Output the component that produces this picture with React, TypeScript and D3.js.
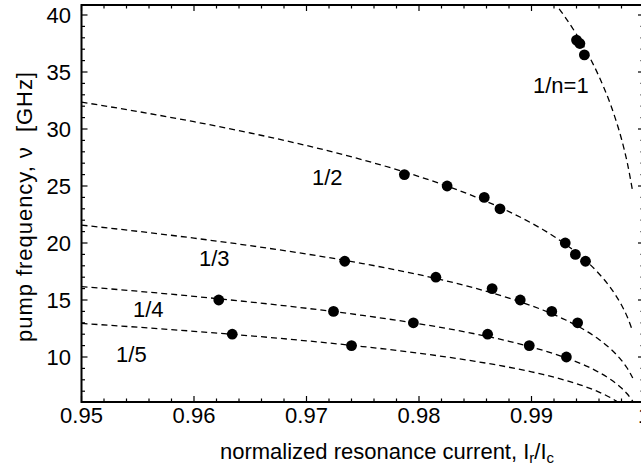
import React from "react";
import * as d3 from "d3";

// Junction plasma frequency (GHz) tabulated against normalized bias current I/Ic.
const currentGrid = [
  0.95, 0.955, 0.96, 0.965, 0.97, 0.975, 0.98, 0.985, 0.988, 0.99, 0.991, 0.992,
  0.993, 0.994, 0.995, 0.996, 0.997, 0.9975, 0.998, 0.9985, 0.999,
];
const plasmaFreq = [
  64.71, 63.07, 61.28, 59.3, 57.1, 54.59, 51.66, 48.1, 45.51, 43.49, 42.37, 41.14,
  39.8, 38.3, 36.6, 34.61, 32.22, 30.78, 29.12, 27.1, 24.49,
];
const orders = [1, 2, 3, 4, 5];

// Measured resonances, one pair of arrays per subharmonic order n.
const currentN1 = [0.994, 0.9943, 0.9947];
const freqN1 = [37.8, 37.5, 36.5];
const currentN2 = [0.9787, 0.9825, 0.9858, 0.9872, 0.993, 0.9939, 0.9948];
const freqN2 = [26, 25, 24, 23, 20, 19, 18.4];
const currentN3 = [0.9734, 0.9815, 0.9865, 0.989, 0.9918, 0.9941];
const freqN3 = [18.4, 17, 16, 15, 14, 13];
const currentN4 = [0.9622, 0.9724, 0.9795, 0.9861, 0.9898, 0.9931];
const freqN4 = [15, 14, 13, 12, 11, 10];
const currentN5 = [0.9634, 0.974];
const freqN5 = [12, 11];

const xTicks = [0.95, 0.96, 0.97, 0.98, 0.99, 1.0];
const yTicks = [10, 15, 20, 25, 30, 35, 40];
const orderLabels = ["1/n=1", "1/2", "1/3", "1/4", "1/5"];

const W = 641;
const H = 469;
const left = 81.5;
const right = 644;
const top = 5;
const bottom = 402;
const FONT = "'Liberation Sans', Arial, Helvetica, sans-serif";

const x = d3.scaleLinear().domain([0.95, 1.0]).range([left, right]);
const y = d3.scaleLinear().domain([10, 40]).range([357, 15]);

const measured = [
  { cur: currentN1, f: freqN1 },
  { cur: currentN2, f: freqN2 },
  { cur: currentN3, f: freqN3 },
  { cur: currentN4, f: freqN4 },
  { cur: currentN5, f: freqN5 },
];

// label anchor positions (data space: current, frequency at text baseline)
const labelPos: [number, number][] = [
  [0.99013, 33.16],
  [0.97049, 25.09],
  [0.96044, 17.98],
  [0.95458, 13.51],
  [0.95307, 9.56],
];

export default function App() {
  const line = d3
    .line<[number, number]>()
    .x((d) => x(d[0]))
    .y((d) => y(d[1]))
    .curve(d3.curveMonotoneX);

  const yMin = y.invert(bottom);
  const yMax = y.invert(top);
  const xMinor = d3.range(0.95, 1.0 + 1e-9, 0.002);
  const yMinor = d3.range(Math.ceil(yMin), Math.floor(yMax) + 1, 1);

  return (
    <svg
      width={W}
      height={H}
      style={{ position: "absolute", left: 0, top: 0, background: "#fff" }}
      fontFamily={FONT}
    >
      <defs>
        <clipPath id="plotArea">
          <rect x={left} y={top} width={right - left} height={bottom - top} />
        </clipPath>
      </defs>
      <rect x={0} y={0} width={W} height={H} fill="#fff" />

      {/* theory curves: plasma frequency divided by n */}
      <g clipPath="url(#plotArea)">
        {orders.map((n) => (
          <path
            key={n}
            d={line(currentGrid.map((c, i) => [c, plasmaFreq[i] / n] as [number, number])) || ""}
            fill="none"
            stroke="#000"
            strokeWidth={1.3}
            strokeDasharray="6,4"
          />
        ))}
      </g>

      {/* measured resonances */}
      <g>
        {measured.map((s, k) =>
          s.cur.map((c, i) => (
            <circle key={`${k}-${i}`} cx={x(c)} cy={y(s.f[i])} r={5.4} fill="#000" />
          ))
        )}
      </g>

      {/* order labels */}
      {orderLabels.map((t, k) => (
        <text
          key={t}
          x={x(labelPos[k][0])}
          y={y(labelPos[k][1])}
          fontSize={22}
          fill="#000"
        >
          {t}
        </text>
      ))}

      {/* ticks */}
      <g stroke="#000" strokeWidth={1.2}>
        {xMinor.map((v, i) => {
          const major = i % 5 === 0;
          const len = major ? 6 : 3.5;
          return (
            <g key={`xt${i}`}>
              <line x1={x(v)} x2={x(v)} y1={bottom} y2={bottom - len} />
              <line x1={x(v)} x2={x(v)} y1={top} y2={top + len} />
            </g>
          );
        })}
        {yMinor.map((v) => {
          const major = v % 5 === 0;
          const len = major ? 6 : 3.5;
          return (
            <g key={`yt${v}`}>
              <line x1={left} x2={left + len} y1={y(v)} y2={y(v)} />
              <line x1={right} x2={right - len} y1={y(v)} y2={y(v)} />
            </g>
          );
        })}
      </g>

      {/* frame */}
      <rect
        x={left}
        y={top}
        width={right - left}
        height={bottom - top}
        fill="none"
        stroke="#000"
        strokeWidth={2}
      />

      {/* tick labels */}
      {xTicks.map((v) => (
        <text key={`xl${v}`} x={x(v)} y={423} fontSize={22} textAnchor="middle" fill="#000">
          {d3.format("~g")(v)}
        </text>
      ))}
      {yTicks.map((v) => (
        <text
          key={`yl${v}`}
          x={71}
          y={y(v) + 7.8}
          fontSize={22}
          textAnchor="end"
          fill="#000"
        >
          {v}
        </text>
      ))}

      {/* axis titles */}
      <text x={387} y={459} fontSize={22} textAnchor="middle" fill="#000">
        normalized resonance current, I
        <tspan fontSize={15} dy={4}>r</tspan>
        <tspan dy={-4}>/I</tspan>
        <tspan fontSize={15} dy={4}>c</tspan>
      </text>
      <text
        transform={`translate(32,207) rotate(-90)`}
        fontSize={22}
        textAnchor="middle"
        fill="#000"
        xmlSpace="preserve"
        textLength={270}
        lengthAdjust="spacing"
      >
        {"pump frequency, ν  [GHz]"}
      </text>
    </svg>
  );
}
